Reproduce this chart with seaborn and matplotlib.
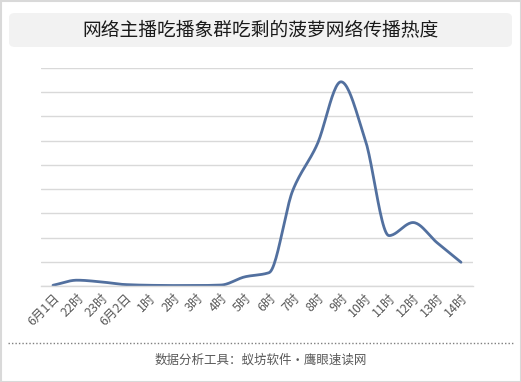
import numpy as np
import pandas as pd
import seaborn as sns
import matplotlib.pyplot as plt
from matplotlib.patches import FancyBboxPatch, Rectangle
from matplotlib.lines import Line2D

# =====================================================
# DATA
# =====================================================
time_labels = ["6月1日", "22时", "23时", "6月2日", "1时", "2时", "3时", "4时", "5时",
               "6时", "7时", "8时", "9时", "10时", "11时", "12时", "13时", "14时"]
heat_values = [0.03, 0.24, 0.17, 0.06, 0.03, 0.02, 0.02, 0.04, 0.38,
               0.55, 3.97, 5.83, 8.43, 6.07, 2.08, 2.62, 1.79, 0.98]

TITLE = "网络主播吃播象群吃剩的菠萝网络传播热度"
FOOTER = "数据分析工具：蚁坊软件・鹰眼速读网"
LINE_COLOR = "#52709f"


# =====================================================
# SMOOTH CURVE (monotone cubic through the data points)
# =====================================================
def smooth_curve(y, steps=24):
    y = np.asarray(y, dtype=float)
    n = len(y)
    d = np.diff(y)
    m = np.zeros(n)
    for i in range(1, n - 1):
        if d[i - 1] * d[i] > 0:
            m[i] = 2.0 / (1.0 / d[i - 1] + 1.0 / d[i])
    m[0] = d[0]
    m[-1] = d[-1]
    xs, ys = [], []
    for i in range(n - 1):
        t = np.linspace(0, 1, steps, endpoint=False)
        h00 = 2 * t ** 3 - 3 * t ** 2 + 1
        h10 = t ** 3 - 2 * t ** 2 + t
        h01 = -2 * t ** 3 + 3 * t ** 2
        h11 = t ** 3 - t ** 2
        xs.extend(i + t)
        ys.extend(h00 * y[i] + h10 * m[i] + h01 * y[i + 1] + h11 * m[i + 1])
    xs.append(n - 1)
    ys.append(y[-1])
    return np.array(xs), np.array(ys)


sx, sy = smooth_curve(heat_values)
df = pd.DataFrame({"x": sx, "heat": sy})

# =====================================================
# PLOT
# =====================================================
sns.set_theme(style="white")
plt.rcParams["font.family"] = ["Noto Sans CJK SC", "DejaVu Sans"]

fig = plt.figure(figsize=(5.21, 3.82), dpi=100)
ax = fig.add_axes([41 / 521, 1 - 286 / 382, 432 / 521, 218 / 382])

sns.lineplot(data=df, x="x", y="heat", ax=ax, color=LINE_COLOR, linewidth=2.0,
             solid_capstyle="round", solid_joinstyle="round")

ax.set_xlim(-0.5, len(time_labels) - 0.5)
ax.set_ylim(0, 9)
ax.set_yticks(range(0, 10))
ax.set_yticklabels([])
ax.yaxis.grid(True, color="#d9d9d9", linewidth=1.0)
ax.set_axisbelow(True)
ax.set_xticks(range(len(time_labels)))
ax.set_xticklabels(time_labels, rotation=45, ha="right", rotation_mode="anchor",
                   fontsize=9, color="#595959")
ax.tick_params(axis="both", length=0, pad=4)
ax.set_xlabel("")
ax.set_ylabel("")
for side in ["top", "right", "left"]:
    ax.spines[side].set_visible(False)
ax.spines["bottom"].set_color("#d9d9d9")
ax.spines["bottom"].set_linewidth(1.0)

# outer frame
fig.patches.append(Rectangle((0.5 / 521, 0.5 / 382), 520 / 521, 381 / 382,
                             transform=fig.transFigure, fill=False,
                             edgecolor="#d9d9d9", linewidth=1.5))

# title box
fig.patches.append(FancyBboxPatch((9 / 521, 1 - 47 / 382), 503 / 521, 34 / 382,
                                  boxstyle="round,pad=0,rounding_size=0.012",
                                  transform=fig.transFigure, facecolor="#f2f2f2",
                                  edgecolor="none"))
fig.text(0.5, 1 - 30 / 382, TITLE, ha="center", va="center", fontsize=13.5,
         color="#1a1a1a")

# dotted separator and footer
fig.lines.append(Line2D([8 / 521, 513 / 521], [1 - 343 / 382, 1 - 343 / 382],
                        transform=fig.transFigure, color="#7f7f7f",
                        linestyle=(0, (1, 1.5)), linewidth=1.0))
fig.text(0.5, 1 - 360 / 382, FOOTER, ha="center", va="center", fontsize=9,
         color="#595959")

fig.savefig("out.png", dpi=100)
plt.close(fig)
